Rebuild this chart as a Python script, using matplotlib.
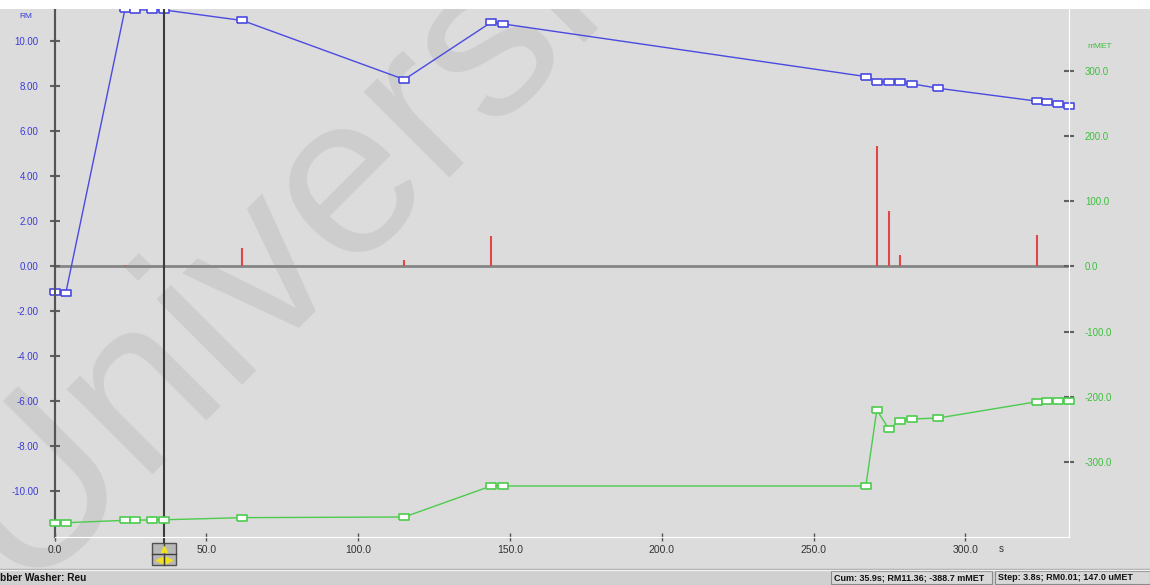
import matplotlib.pyplot as plt
from matplotlib.patches import Rectangle
from matplotlib.lines import Line2D

plt.rcParams['font.family'] = ['Liberation Sans', 'DejaVu Sans']

# logged points: time (s), RM (left axis) and mMET (right axis)
times = [0.0, 3.7, 23.2, 26.5, 32.1, 35.9, 61.9, 115.2, 143.8, 147.6,
         267.2, 270.8, 274.8, 278.4, 282.3, 291.1, 323.5, 327.0, 330.4, 334.1]
rm = [-1.18, -1.22, 11.38, 11.37, 11.35, 11.36, 10.89, 8.27, 10.81, 10.74,
      8.40, 8.17, 8.17, 8.15, 8.08, 7.88, 7.31, 7.25, 7.19, 7.10]
mmet = [-393.5, -393.2, -389.5, -389.3, -388.9, -388.7, -385.4, -384.4, -336.8, -336.8,
        -336.8, -220.2, -249.3, -236.6, -234.0, -232.5, -207.5, -206.4, -206.4, -205.9]

# step bars (red), right axis units
step_times = [23.2, 61.9, 115.2, 143.8, 270.8, 274.8, 278.4, 282.3, 291.1, 323.5, 327.0]
step_vals = [3.0, 28.7, 10.7, 46.5, 184.6, 84.9, 16.9, 1.5, 1.5, 48.6, 1.5]

cursor_time = 35.9
rm_ticks = [-10, -8, -6, -4, -2, 0, 2, 4, 6, 8, 10]
met_ticks = [-300, -200, -100, 0, 100, 200, 300]
x_ticks = [0, 50, 100, 150, 200, 250, 300]

status_left = 'bber Washer: Reu'
status_cum = 'Cum: 35.9s; RM11.36; -388.7 mMET'
status_step = 'Step: 3.8s; RM0.01; 147.0 uMET'

W, H = 1150, 585
BG = '#dcdcdc'
BLUE = '#4a4ae0'
GREEN = '#4ccc4c'
RED = '#e04848'


def fx(px):
    return px / W


def fy(py):
    return 1 - py / H


fig = plt.figure(figsize=(W / 100, H / 100), dpi=100, facecolor=BG)

# watermark
fig.text(fx(20), fy(590), 'Universi', rotation=45, rotation_mode='anchor',
         fontsize=165, color='#cdcdcd', ha='left', va='baseline', zorder=-1)

# white strip at top, status bar at bottom
fig.add_artist(Rectangle((0, fy(9)), 1, 9 / H, transform=fig.transFigure,
                         facecolor='white', edgecolor='none'))
fig.add_artist(Rectangle((0, 0), 1, 16 / H, transform=fig.transFigure,
                         facecolor='#d0d0d0', edgecolor='none'))
fig.add_artist(Line2D([0, 1], [16 / H, 16 / H], transform=fig.transFigure,
                      color='#a8a8a8', lw=1))
fig.add_artist(Line2D([0, 1], [15 / H, 15 / H], transform=fig.transFigure,
                      color='#f0f0f0', lw=1))
for x0, x1 in [(831, 992), (995, 1150)]:
    fig.add_artist(Rectangle((fx(x0), 1 / H), fx(x1 - x0), 13 / H, transform=fig.transFigure,
                             facecolor='#d8d8d8', edgecolor='#8a8a8a', lw=0.8))
fig.text(fx(0), 7 / H, status_left, fontsize=7.3, fontweight='bold', color='#111111',
         ha='left', va='center')
fig.text(fx(834), 7 / H, status_cum, fontsize=6.5, fontweight='bold', color='#111111',
         ha='left', va='center')
fig.text(fx(998), 7 / H, status_step, fontsize=6.5, fontweight='bold', color='#111111',
         ha='left', va='center')

ax = fig.add_axes([fx(54.5), fy(537), (1069 - 54.5) / W, 528 / H])
ax.set_facecolor('none')
ax2 = ax.twinx()

ax.set_xlim(0, times[-1])
ax.set_ylim(-12.04, 11.40)
ax2.set_ylim(-415.1, 395.1)

rect = [(-1, -0.72), (1, -0.72), (1, 0.72), (-1, 0.72), (-1, -0.72)]

ax.axhline(0, color='#858585', lw=2, zorder=1)
ax2.vlines(step_times, 0, step_vals, color=RED, lw=1.5, zorder=2)
ax.plot(times, rm, color=BLUE, lw=1, marker=rect, markersize=6.5, mfc='white',
        mec=BLUE, mew=1.2, clip_on=False, zorder=4)
ax2.plot(times, mmet, color=GREEN, lw=1, marker=rect, markersize=6.5, mfc='white',
         mec=GREEN, mew=1.2, clip_on=False, zorder=4)
ax.axvline(cursor_time, ymin=-0.035, ymax=1, color='#3c3c3c', lw=1.5,
           clip_on=False, zorder=5)

for a in (ax, ax2):
    a.spines['top'].set_visible(False)
    a.spines['bottom'].set_color('white')
    a.spines['right'].set_color('white')
    a.spines['left'].set_color('#555555')
    a.spines['left'].set_linewidth(1.5)

ax.set_yticks(rm_ticks)
ax.set_yticklabels(['%.2f' % v for v in rm_ticks])
ax.tick_params(axis='y', direction='inout', length=7, width=1.5, color='#606060',
               labelcolor='#3c3cd8', labelsize=7, pad=8)
ax2.set_yticks(met_ticks)
ax2.set_yticklabels(['%.1f' % v for v in met_ticks])
ax2.tick_params(axis='y', direction='inout', length=7, width=1.5, color='#606060',
                labelcolor='#3cc03c', labelsize=7, pad=8)
ax.set_xticks(x_ticks)
ax.set_xticklabels(['%.1f' % v for v in x_ticks])
ax.tick_params(axis='x', direction='inout', length=6, width=1, color='#505050',
               labelcolor='#333333', labelsize=7.5, pad=3)

fig.text(fx(26), fy(16), 'RM', color='#3c3cd8', fontsize=6, ha='center', va='center')
fig.text(fx(1100), fy(47), 'mMET', color='#3cc03c', fontsize=6, ha='center', va='center')
fig.text(fx(1001), fy(549), 's', color='#333333', fontsize=7, ha='center', va='center')

# cursor thumb
cx = ax.transData.transform((cursor_time, 0))[0] / W
fig.add_artist(Rectangle((cx - 12 / W, fy(565)), 24 / W, 22 / H, transform=fig.transFigure,
                         facecolor='#b8b8b8', edgecolor='#505050', lw=1, zorder=6))
fig.add_artist(Line2D([cx - 12 / W, cx + 12 / W], [fy(554), fy(554)],
                      transform=fig.transFigure, color='#404040', lw=1, zorder=7))
fig.add_artist(Line2D([cx, cx], [fy(565), fy(543)], transform=fig.transFigure,
                      color='#404040', lw=1, zorder=7))
fig.add_artist(Line2D([cx], [fy(548.5)], transform=fig.transFigure, marker='^', ms=4,
                      color='#f0e020', lw=0, zorder=8))
fig.add_artist(Line2D([cx - 5 / W], [fy(559.5)], transform=fig.transFigure, marker='<', ms=4,
                      color='#f0e020', lw=0, zorder=8))
fig.add_artist(Line2D([cx + 5 / W], [fy(559.5)], transform=fig.transFigure, marker='>', ms=4,
                      color='#f0e020', lw=0, zorder=8))

fig.savefig('out.png', dpi=100, facecolor=fig.get_facecolor())
